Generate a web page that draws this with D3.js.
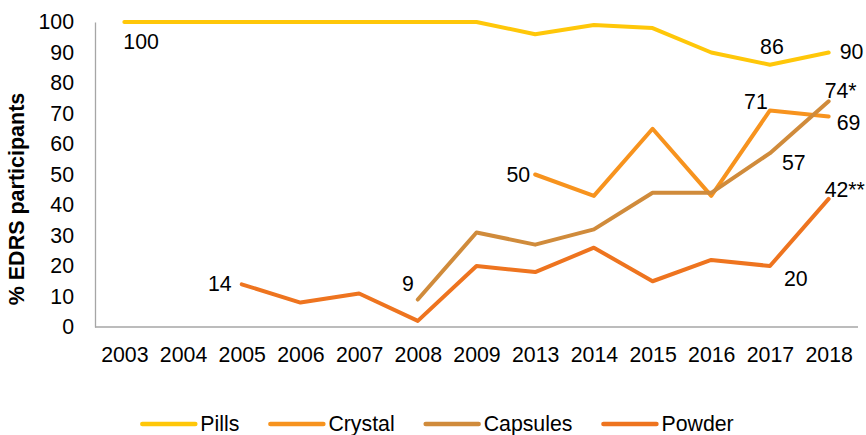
<!DOCTYPE html>
<html>
<head>
<meta charset="utf-8">
<script src="https://cdn.jsdelivr.net/npm/d3@7"></script>
<style>
  body { margin: 0; background: #fff; }
  text { font-family: "Liberation Sans", Arial, sans-serif; fill: #000; }
</style>
</head>
<body>
<div id="chart"></div>
<script>
// categories
const years = ["2003", "2004", "2005", "2006", "2007", "2008", "2009", "2013", "2014", "2015", "2016", "2017", "2018"];
const yTicks = [0, 10, 20, 30, 40, 50, 60, 70, 80, 90, 100];

// series values (null = not asked that year)
const pills    = [100, 100, 100, 100, 100, 100, 100, 96, 99, 98, 90, 86, 90];
const crystal  = [null, null, null, null, null, null, null, 50, 43, 65, 43, 71, 69];
const capsules = [null, null, null, null, null, 9, 31, 27, 32, 44, 44, 57, 74];
const powder   = [null, null, 14, 8, 11, 2, 20, 18, 26, 15, 22, 20, 42];

const seriesNames = ["Pills", "Crystal", "Capsules", "Powder"];
const seriesValues = [pills, crystal, capsules, powder];
const colors = ["#FFC709", "#F7931E", "#D08B3B", "#EE741F"];

// data labels: series, year, text
const labels = [
    { s: 0, year: "2003", text: "100" },
    { s: 0, year: "2017", text: "86" },
    { s: 0, year: "2018", text: "90" },
    { s: 1, year: "2013", text: "50" },
    { s: 1, year: "2017", text: "71" },
    { s: 1, year: "2018", text: "69" },
    { s: 2, year: "2008", text: "9" },
    { s: 2, year: "2017", text: "57" },
    { s: 2, year: "2018", text: "74*" },
    { s: 3, year: "2005", text: "14" },
    { s: 3, year: "2017", text: "20" },
    { s: 3, year: "2018", text: "42**" }
];

// where each label sits relative to its point [dx, dy, anchor]
const placement = {
    "100": [-1, 20, "start"],
    "86": [2, -18, "middle"],
    "90": [11, -1, "start"],
    "50": [-5, 0, "end"],
    "71": [-14, -9, "middle"],
    "69": [8, 6, "start"],
    "9": [-4, -16, "end"],
    "57": [12, 9, "start"],
    "74*": [-4, -11, "start"],
    "14": [-10, -1, "end"],
    "20": [14, 13, "start"],
    "42**": [-4, -9, "start"]
};

const width = 866, height = 435;
const plotLeft = 95, plotRight = 858, plotTop = 22, plotBottom = 327;
const fontSize = 21.3;

const svg = d3.select("#chart")
    .append("svg")
    .attr("width", width)
    .attr("height", height);

const xScale = d3.scalePoint()
    .domain(years)
    .range([plotLeft, plotRight])
    .padding(0.5);

const yScale = d3.scaleLinear()
    .domain([0, 100])
    .range([plotBottom, plotTop]);

// axes
const yAxis = svg.append("g")
    .attr("transform", `translate(${plotLeft},0)`)
    .call(d3.axisLeft(yScale).tickValues(yTicks).tickSize(0).tickPadding(21));
yAxis.select(".domain").attr("stroke", "#A6A6A6").attr("stroke-width", 1.3);
yAxis.selectAll("text").style("font-size", fontSize + "px").attr("fill", "#000");

const xAxis = svg.append("g")
    .attr("transform", `translate(0,${plotBottom})`)
    .call(d3.axisBottom(xScale).tickSize(0).tickPadding(20));
xAxis.select(".domain").attr("stroke", "#A6A6A6").attr("stroke-width", 1.3)
    .attr("d", `M${plotLeft},0H${plotRight}`);
xAxis.selectAll("text").style("font-size", fontSize + "px").attr("fill", "#000");

// y axis title
svg.append("text")
    .attr("transform", "translate(24,199) rotate(-90)")
    .attr("text-anchor", "middle")
    .style("font-size", "21.5px")
    .style("font-weight", "bold")
    .text("% EDRS participants");

// lines
const line = d3.line()
    .defined(d => d.v != null)
    .x(d => xScale(d.year))
    .y(d => yScale(d.v));

seriesValues.forEach((vals, i) => {
    const pts = years.map((y, j) => ({ year: y, v: vals[j] }));
    svg.append("path")
        .datum(pts)
        .attr("fill", "none")
        .attr("stroke", colors[i])
        .attr("stroke-width", 4)
        .attr("stroke-linejoin", "round")
        .attr("stroke-linecap", "round")
        .attr("d", line);
});

// data labels
labels.forEach(l => {
    const v = seriesValues[l.s][years.indexOf(l.year)];
    const p = placement[l.text];
    svg.append("text")
        .attr("x", xScale(l.year) + p[0])
        .attr("y", yScale(v) + p[1])
        .attr("dy", "0.35em")
        .attr("text-anchor", p[2])
        .style("font-size", fontSize + "px")
        .text(l.text);
});

// legend
const legend = svg.append("g");
let cx = 0;
seriesNames.forEach((name, i) => {
    const g = legend.append("g");
    g.append("line")
        .attr("x1", 0).attr("x2", 53)
        .attr("stroke", colors[i])
        .attr("stroke-width", 4.5)
        .attr("stroke-linecap", "round");
    const t = g.append("text")
        .attr("x", 58)
        .attr("dy", "0.35em")
        .style("font-size", fontSize + "px")
        .text(name);
    const w = 58 + t.node().getComputedTextLength();
    g.attr("transform", `translate(${cx},0)`);
    cx += w + 31;
});
const total = cx - 31;
legend.attr("transform", `translate(${438 - total / 2},424)`);
</script>
</body>
</html>
